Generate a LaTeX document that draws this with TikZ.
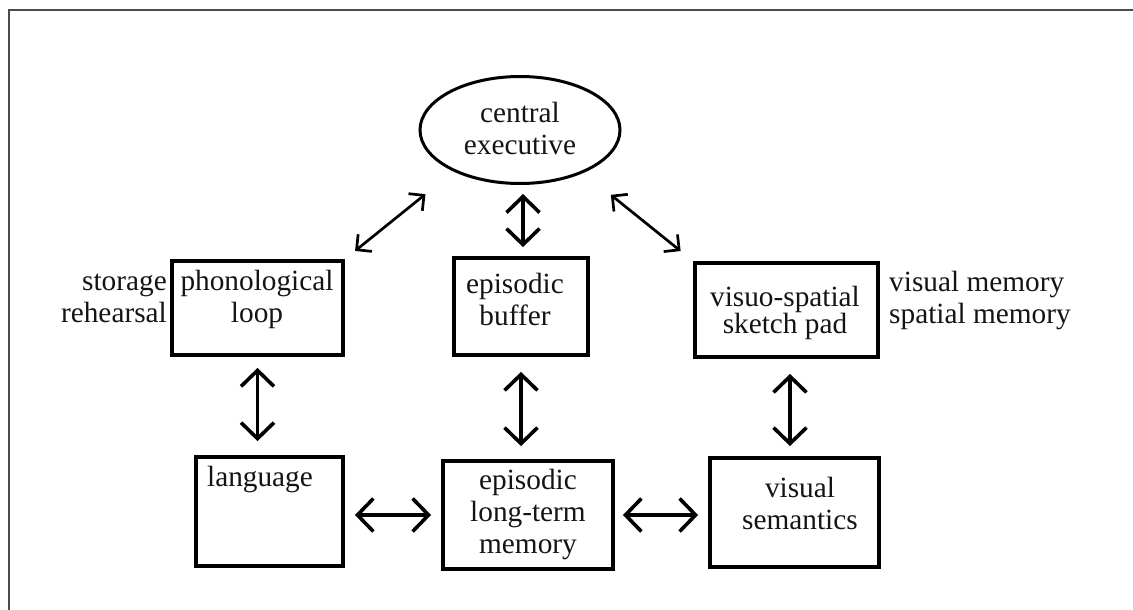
\documentclass[tikz,border=0pt]{standalone}
\usepackage{fontspec}
\setmainfont{Liberation Serif}
\usetikzlibrary{arrows.meta,shapes.geometric}
\begin{document}
\begin{tikzpicture}[x=1pt,y=-1pt,
  box/.style={draw=black,line width=3.8pt,rectangle,inner sep=0pt},
  txt/.style={font=\fontsize{29.3}{32}\selectfont,align=center,inner sep=0pt,text=black!92},
  dbl/.style={line width=3.6pt,{Straight Barb[length=16pt,width=33pt]}-{Straight Barb[length=16pt,width=33pt]}},
  dbld/.style={line width=2.7pt,{Straight Barb[length=11pt,width=22pt]}-{Straight Barb[length=11pt,width=22pt]}}]
\useasboundingbox (0,0) rectangle (1133,610);
\fill[white] (0,0) rectangle (1133,610);
\draw[line width=2pt,black!70] (8.5,610) -- (8.5,10.5) -- (1133,10.5);
% shapes
\node[draw=black,line width=3pt,ellipse,minimum width=200pt,minimum height=107pt,inner sep=0pt] (ce) at (520,130) {};
\node[box,minimum width=171pt,minimum height=94pt] (phon) at (257.5,308) {};
\node[box,minimum width=134pt,minimum height=97pt] (buf) at (521,306.5) {};
\node[box,minimum width=183pt,minimum height=94pt] (vsp) at (786.5,310) {};
\node[box,minimum width=147pt,minimum height=109pt] (lang) at (269.5,511.5) {};
\node[box,minimum width=170pt,minimum height=108pt] (ltm) at (528,515) {};
\node[box,minimum width=169pt,minimum height=109pt] (vsem) at (794.5,512.5) {};
% texts
\node[txt] (ceT) at (520,128) {central\\executive};
\node[txt] (phonT) at (257,299) {phonological\\loop};
\node[txt,align=right,anchor=east] (phonL) at (167,298) {storage\\rehearsal};
\node[txt] (bufT) at (515,299) {episodic\\buffer};
\node[txt,font=\fontsize{29.3}{27}\selectfont] (vspT) at (785,313) {visuo-spatial\\sketch pad};
\node[txt,align=left,anchor=west] (vspL) at (889,300) {visual memory\\spatial memory};
\node[txt] (langT) at (260,479) {language};
\node[txt] (ltmT) at (528,514) {episodic\\long-term\\memory};
\node[txt] (vsemT) at (800,503) {visual\\semantics};
% connectors
\draw[dbld,shorten <=36pt,shorten >=13pt] (ce.212) -- (phon.north east);
\draw[dbl,shorten <=9pt,shorten >=9pt] ([xshift=3pt]ce.south) -- ([xshift=3pt]ce.south |- buf.north);
\draw[dbld,shorten <=35pt,shorten >=16pt] (ce.-34.4) -- (vsp.north west);
\draw[dbl,shorten <=11pt,shorten >=14pt] (phon.south) -- (phon.south |- lang.north);
\draw[dbl,shorten <=15pt,shorten >=13pt] (buf.south) -- (buf.south |- ltm.north);
\draw[dbl,shorten <=15pt,shorten >=10pt] ([xshift=3.5pt]vsp.south) -- ([xshift=3.5pt]vsp.south |- vsem.north);
\draw[dbl,shorten <=10pt,shorten >=10pt] (ltm.west -| lang.east) -- (ltm.west);
\draw[dbl,shorten <=8pt,shorten >=10pt] (ltm.east) -- (ltm.east -| vsem.west);
\end{tikzpicture}
\end{document}
